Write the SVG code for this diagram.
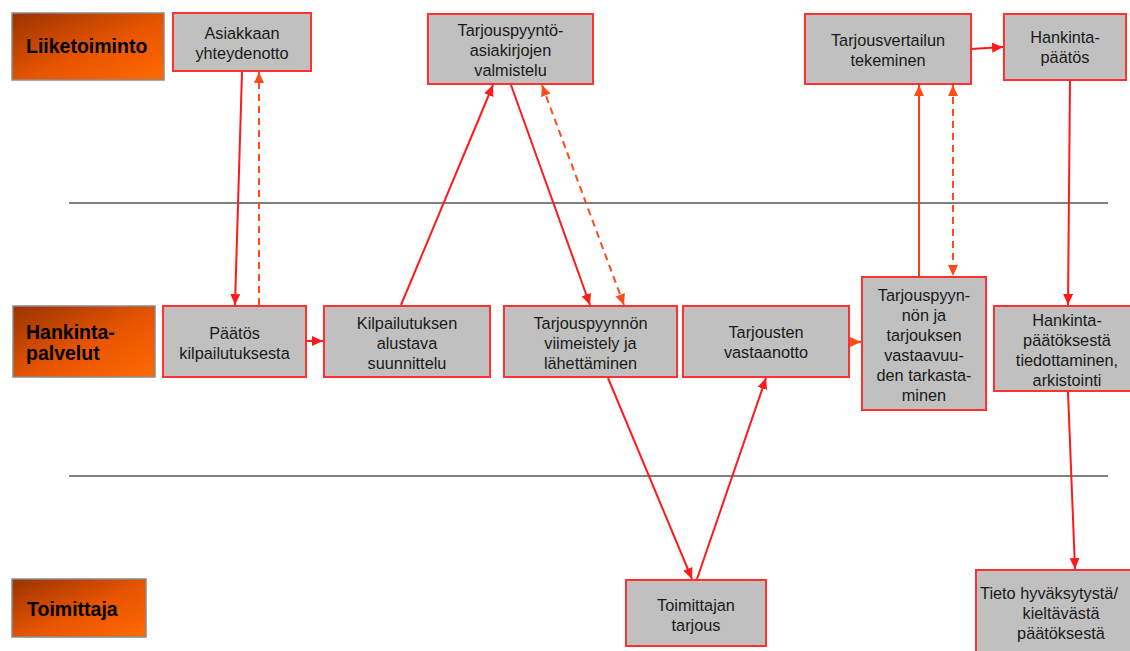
<svg xmlns="http://www.w3.org/2000/svg" width="1130" height="651" viewBox="0 0 1130 651">
  <defs>
    <linearGradient id="laneFill" x1="0" y1="0" x2="1" y2="1">
      <stop offset="0" stop-color="#9a3300"/>
      <stop offset="0.55" stop-color="#e85500"/>
      <stop offset="1" stop-color="#ff6a00"/>
    </linearGradient>
    <marker id="arrowRed" markerUnits="userSpaceOnUse" markerWidth="11" markerHeight="10" refX="11" refY="5" orient="auto">
      <path d="M0,0 L11,5 L0,10 z" fill="#ff1a1a"/>
    </marker>
    <marker id="arrowOrange" markerUnits="userSpaceOnUse" markerWidth="11" markerHeight="10" refX="11" refY="5" orient="auto">
      <path d="M0,0 L11,5 L0,10 z" fill="#ff4a1a"/>
    </marker>
    <marker id="arrowOrangeStart" markerUnits="userSpaceOnUse" markerWidth="11" markerHeight="10" refX="0" refY="5" orient="auto">
      <path d="M11,0 L0,5 L11,10 z" fill="#ff4a1a"/>
    </marker>
    <marker id="arrowOpen" markerUnits="userSpaceOnUse" markerWidth="14" markerHeight="14" refX="12" refY="7" orient="auto">
      <path d="M1,1 L12,7 L1,13" fill="none" stroke="#ff1a1a" stroke-width="2"/>
    </marker>
    <style>
      .lane rect { fill: url(#laneFill); stroke: #8a8a8a; stroke-width: 1.5; }
      .lane text { font-family: "Liberation Sans", Arial, sans-serif; font-weight: bold; font-size: 19.5px; fill: #000; }
      .node rect { fill: #c0c0c0; stroke: #ff3030; stroke-width: 2; }
      .node text { font-family: "Liberation Sans", Arial, sans-serif; font-size: 16.3px; fill: #1a1a1a; text-anchor: middle; }
      .divider { stroke: #808080; stroke-width: 2; }
      .solid { stroke: #ff1a1a; stroke-width: 2; fill: none; marker-end: url(#arrowRed); }
      .solidOr { stroke: #ff3a1a; stroke-width: 2; fill: none; marker-end: url(#arrowOrange); }
      .dashed { stroke: #ff4a1a; stroke-width: 2; fill: none; stroke-dasharray: 7 5; }
    </style>
  </defs>

  <rect width="1130" height="651" fill="#ffffff"/>

  <!-- swimlane dividers -->
  <g id="dividers">
    <line class="divider" x1="69" y1="203" x2="1108" y2="203"/>
    <line class="divider" x1="69" y1="476" x2="1108" y2="476"/>
  </g>

  <!-- swimlane headers -->
  <g id="lane-liiketoiminto" class="lane">
    <rect x="12" y="13" width="152" height="67"/>
    <text x="26" y="53">Liiketoiminto</text>
  </g>
  <g id="lane-hankintapalvelut" class="lane">
    <rect x="13" y="306" width="142" height="71"/>
    <text x="26" y="339">Hankinta-</text>
    <text x="26" y="360">palvelut</text>
  </g>
  <g id="lane-toimittaja" class="lane">
    <rect x="12" y="579" width="134" height="58"/>
    <text x="27" y="616">Toimittaja</text>
  </g>

  <!-- process steps -->
  <g id="asiakkaan-yhteydenotto" class="node">
    <rect x="173" y="13" width="138" height="58"/>
    <text x="242" y="39">Asiakkaan</text>
    <text x="242" y="59">yhteydenotto</text>
  </g>
  <g id="tarjouspyyntoasiakirjat" class="node">
    <rect x="428" y="14" width="165" height="70"/>
    <text x="510.5" y="36">Tarjouspyyntö-</text>
    <text x="510.5" y="56">asiakirjojen</text>
    <text x="510.5" y="76">valmistelu</text>
  </g>
  <g id="tarjousvertailu" class="node">
    <rect x="805" y="14" width="166" height="70"/>
    <text x="888" y="46">Tarjousvertailun</text>
    <text x="888" y="66">tekeminen</text>
  </g>
  <g id="hankintapaatos" class="node">
    <rect x="1004" y="14" width="122" height="66"/>
    <text x="1065" y="43">Hankinta-</text>
    <text x="1065" y="63">päätös</text>
  </g>
  <g id="paatos-kilpailutuksesta" class="node">
    <rect x="163" y="306" width="143" height="71"/>
    <text x="234.5" y="339">Päätös</text>
    <text x="234.5" y="359">kilpailutuksesta</text>
  </g>
  <g id="kilpailutuksen-suunnittelu" class="node">
    <rect x="324" y="306" width="166" height="71"/>
    <text x="407" y="329">Kilpailutuksen</text>
    <text x="407" y="349">alustava</text>
    <text x="407" y="369">suunnittelu</text>
  </g>
  <g id="tarjouspyynnon-viimeistely" class="node">
    <rect x="504" y="306" width="173" height="71"/>
    <text x="590.5" y="329">Tarjouspyynnön</text>
    <text x="590.5" y="349">viimeistely ja</text>
    <text x="590.5" y="369">lähettäminen</text>
  </g>
  <g id="tarjousten-vastaanotto" class="node">
    <rect x="683" y="306" width="166" height="71"/>
    <text x="766" y="338">Tarjousten</text>
    <text x="766" y="358">vastaanotto</text>
  </g>
  <g id="vastaavuuden-tarkastaminen" class="node">
    <rect x="862" y="277" width="124" height="133"/>
    <text x="924" y="301">Tarjouspyyn-</text>
    <text x="924" y="321">nön ja</text>
    <text x="924" y="341">tarjouksen</text>
    <text x="924" y="361">vastaavuu-</text>
    <text x="924" y="381">den tarkasta-</text>
    <text x="924" y="401">minen</text>
  </g>
  <g id="paatoksesta-tiedottaminen" class="node">
    <rect x="994" y="306" width="140" height="85"/>
    <text x="1067" y="326">Hankinta-</text>
    <text x="1067" y="346">päätöksestä</text>
    <text x="1067" y="366">tiedottaminen,</text>
    <text x="1067" y="386">arkistointi</text>
  </g>
  <g id="toimittajan-tarjous" class="node">
    <rect x="626" y="580" width="140" height="66"/>
    <text x="696" y="611">Toimittajan</text>
    <text x="696" y="631">tarjous</text>
  </g>
  <g id="tieto-paatoksesta" class="node">
    <rect x="976" y="570" width="160" height="90"/>
    <text x="1049" y="599">Tieto hyväksytystä/</text>
    <text x="1061" y="619">kieltävästä</text>
    <text x="1061" y="639">päätöksestä</text>
  </g>

  <!-- connectors -->
  <g id="connectors">
    <line class="solid" x1="242" y1="72" x2="235" y2="305"/>
    <line class="dashed" x1="259" y1="305" x2="259" y2="72" marker-end="url(#arrowOrange)"/>
    <line class="solid" x1="306" y1="341" x2="323" y2="341"/>
    <line class="solid" x1="401" y1="305" x2="493" y2="85"/>
    <line class="solid" x1="511" y1="85" x2="590" y2="305"/>
    <line class="dashed" x1="542" y1="85" x2="624" y2="305" marker-start="url(#arrowOrangeStart)" marker-end="url(#arrowOrange)"/>
    <line class="solid" x1="608" y1="378" x2="692" y2="579"/>
    <line class="solid" x1="697" y1="579" x2="766" y2="378"/>
    <line class="solidOr" x1="849" y1="342" x2="861" y2="342"/>
    <line class="solidOr" x1="919" y1="276" x2="919" y2="85"/>
    <line class="dashed" x1="953" y1="85" x2="953" y2="276" marker-start="url(#arrowOrangeStart)" marker-end="url(#arrowOrange)"/>
    <line class="solid" x1="971" y1="49" x2="1003" y2="47"/>
    <line class="solid" x1="1070" y1="81" x2="1068" y2="305"/>
    <line class="solid" x1="1068" y1="392" x2="1075" y2="569" marker-end="url(#arrowOpen)"/>
  </g>
</svg>
